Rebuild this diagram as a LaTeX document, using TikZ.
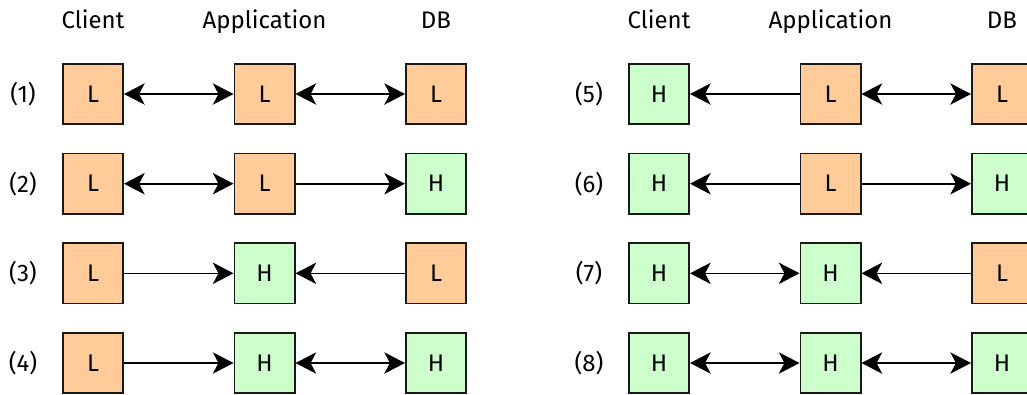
\documentclass[tikz,border=0pt]{standalone}
\usepackage{fontspec}
\setmainfont{Fira Sans}
\usetikzlibrary{arrows.meta}
\definecolor{lowfill}{HTML}{FFCC99}
\definecolor{highfill}{HTML}{CCFFCC}
\begin{document}
\begin{tikzpicture}[x=0.75pt,y=-0.75pt,
  font=\fontsize{18}{21}\selectfont,
  tier/.style={draw=black!90, line width=1.2pt, minimum size=45.3pt, inner sep=0pt},
  low/.style={tier, fill=lowfill},
  high/.style={tier, fill=highfill},
  link/.style={line width=1.2pt, draw=black},
  >={Stealth[length=15.5pt,width=16pt,inset=4.2pt]},
  head/.style={anchor=base},
  rowlabel/.style={anchor=center}]
\useasboundingbox (0,0) rectangle (1027,394);
\clip (0,0) rectangle (1027,394);

% column headers
\node[head] (hc1) at (93,28.3) {Client};
\node[head] (ha1) at (264.5,28.3) {Application};
\node[head] (hd1) at (436,28.3) {DB};
\node[head] (hc2) at (659,28.3) {Client};
\node[head] (ha2) at (830.5,28.3) {Application};
\node[head] (hd2) at (1002,28.3) {DB};

% left block: rows 1-4
\node[rowlabel] (r1) at (23,94) {(1)};
\node[low]  (c1) at (93,94) {L};
\node[low]  (a1) at (264.5,94) {L};
\node[low]  (d1) at (436,94) {L};

\node[rowlabel] (r2) at (23,183.7) {(2)};
\node[low]  (c2) at (93,183.7) {L};
\node[low]  (a2) at (264.5,183.7) {L};
\node[high] (d2) at (436,183.7) {H};

\node[rowlabel] (r3) at (23,273.3) {(3)};
\node[low]  (c3) at (93,273.3) {L};
\node[high] (a3) at (264.5,273.3) {H};
\node[low]  (d3) at (436,273.3) {L};

\node[rowlabel] (r4) at (23,363) {(4)};
\node[low]  (c4) at (93,363) {L};
\node[high] (a4) at (264.5,363) {H};
\node[high] (d4) at (436,363) {H};

% right block: rows 5-8
\node[rowlabel] (r5) at (589,94) {(5)};
\node[high] (c5) at (659,94) {H};
\node[low]  (a5) at (830.5,94) {L};
\node[low]  (d5) at (1002,94) {L};

\node[rowlabel] (r6) at (589,183.7) {(6)};
\node[high] (c6) at (659,183.7) {H};
\node[low]  (a6) at (830.5,183.7) {L};
\node[high] (d6) at (1002,183.7) {H};

\node[rowlabel] (r7) at (589,273.3) {(7)};
\node[high] (c7) at (659,273.3) {H};
\node[high] (a7) at (830.5,273.3) {H};
\node[low]  (d7) at (1002,273.3) {L};

\node[rowlabel] (r8) at (589,363) {(8)};
\node[high] (c8) at (659,363) {H};
\node[high] (a8) at (830.5,363) {H};
\node[high] (d8) at (1002,363) {H};

% connectors
\draw[link,<->] (c1) -- (a1);
\draw[link,<->] (a1) -- (d1);
\draw[link,<->] (c2) -- (a2);
\draw[link,->]  (a2) -- (d2);
\draw[link,->]  (c3) -- (a3);
\draw[link,->]  (d3) -- (a3);
\draw[link,->]  (c4) -- (a4);
\draw[link,<->] (a4) -- (d4);

\draw[link,->]  (a5) -- (c5);
\draw[link,<->] (a5) -- (d5);
\draw[link,->]  (a6) -- (c6);
\draw[link,->]  (a6) -- (d6);
\draw[link,<->] (c7) -- (a7);
\draw[link,->]  (d7) -- (a7);
\draw[link,<->] (c8) -- (a8);
\draw[link,<->] (a8) -- (d8);
\end{tikzpicture}
\end{document}
